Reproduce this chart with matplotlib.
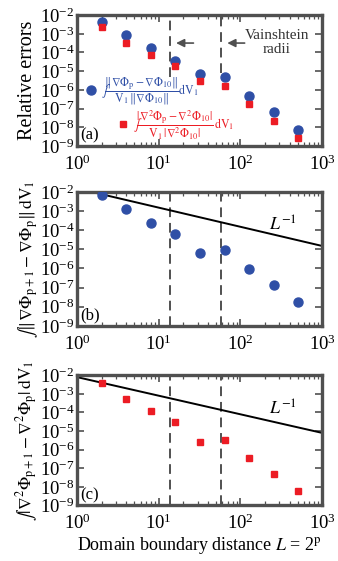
import matplotlib
matplotlib.use("Agg")
import matplotlib.pyplot as plt
import numpy as np

plt.rcParams['font.family'] = ['Liberation Serif', 'DejaVu Serif']
plt.rcParams['mathtext.fontset'] = 'stix'

# domain boundary distance L = 2^p, p = 1..9
L = [2, 4, 8, 16, 32, 64, 128, 256, 512]

# panel (a): relative errors against p = 10
err_grad = [4.5e-3, 8.7e-4, 1.7e-4, 3.7e-5, 7.3e-6, 4.8e-6, 4.5e-7, 6.3e-8, 7.0e-9]
err_lap = [2.4e-3, 3.4e-4, 7.4e-5, 1.8e-5, 3.0e-6, 1.7e-6, 1.7e-7, 2.2e-8, 2.6e-9]

# panel (b), (c): successive differences
diff_grad = [6.7e-3, 1.2e-3, 2.5e-4, 6.4e-5, 6.3e-6, 8.7e-6, 9.5e-7, 1.3e-7, 1.8e-8]
diff_lap = [4.1e-3, 5.5e-4, 1.2e-4, 3.0e-5, 2.5e-6, 3.5e-6, 3.5e-7, 4.7e-8, 6.3e-9]

# Vainshtein radii
r_v = [13.7, 58.0]
# L^-1 reference lines (amplitude)
amp_b = 1.5e-2
amp_c = 8.0e-3

blue = '#2f4fa6'
red = '#ec1c24'
grey = '#505050'

fig = plt.figure(figsize=(3.38, 5.61), dpi=100)
ax_a = fig.add_axes([0.228, 0.740, 0.725, 0.233])
ax_b = fig.add_axes([0.228, 0.419, 0.725, 0.239])
ax_c = fig.add_axes([0.228, 0.099, 0.725, 0.232])

for ax in (ax_a, ax_b, ax_c):
    ax.set_xscale('log')
    ax.set_yscale('log')
    ax.set_xlim(1, 1000)
    ax.set_ylim(1e-9, 1e-2)
    ax.set_yticks([10.0**k for k in range(-9, -1)])
    ax.set_xticks([1, 10, 100, 1000])
    ax.yaxis.set_minor_locator(matplotlib.ticker.NullLocator())
    for s in ax.spines.values():
        s.set_linewidth(2.4)
        s.set_color(grey)
    ax.tick_params(which='both', direction='in', top=True, right=True,
                   color=grey, labelsize=13.5, pad=2)
    ax.tick_params(axis='x', which='major', pad=6)
    ax.tick_params(which='major', length=5, width=1.2)
    ax.tick_params(which='minor', length=3, width=0.9)

# (a)
ax_a.vlines(r_v[0], 5e-6, 6e-3, colors=grey, linestyles=(0, (5, 3)), lw=1.4)
ax_a.vlines(r_v[1], 8e-6, 1e-2, colors=grey, linestyles=(0, (5, 3)), lw=1.4)
ax_a.plot(L, err_grad, 'o', color=blue, ms=6.5, zorder=3)
ax_a.plot(L, err_lap, 's', color=red, ms=5, zorder=3)
for xv in r_v:
    ax_a.annotate('', xy=(xv * 1.1, 3.2e-4), xytext=(xv * 2.1, 3.2e-4),
                  arrowprops=dict(arrowstyle='-|>', color=grey, lw=1.2,
                                  mutation_scale=12))
ax_a.text(280, 3.3e-4, 'Vainshtein\nradii', ha='center', va='center',
          fontsize=11, color='#333333', linespacing=1.1)
ax_a.text(1.08, 1.3e-9, '(a)', fontsize=12, ha='left', va='bottom')

lab_grad = (r'$\int\!\dfrac{\Vert\nabla\Phi_{\rm p}-\nabla\Phi_{10}\Vert}'
            r'{{\rm V}_1\,\Vert\nabla\Phi_{10}\Vert}{\rm dV}_1$')
lab_lap = (r'$\int\!\dfrac{|\nabla^2\Phi_{\rm p}-\nabla^2\Phi_{10}|}'
           r'{{\rm V}_1\,|\nabla^2\Phi_{10}|}\,{\rm dV}_1$')
h1, = ax_a.plot([], [], 'o', color=blue, ms=6.5)
h2, = ax_a.plot([], [], 's', color=red, ms=5)
leg1 = ax_a.legend([h1], [lab_grad], loc='center left',
                   bbox_to_anchor=(0.0, 0.42), frameon=False, fontsize=8.5,
                   labelcolor=blue, handletextpad=0.2, handlelength=1.2,
                   borderpad=0.1)
ax_a.add_artist(leg1)
ax_a.legend([h2], [lab_lap], loc='center left',
            bbox_to_anchor=(0.13, 0.16), frameon=False, fontsize=8.5,
            labelcolor=red, handletextpad=0.2, handlelength=1.2, borderpad=0.1)
ax_a.set_ylabel('Relative errors', fontsize=14.5, labelpad=2)

# (b)
xs = np.array([1.0, 1000.0])
for xv in r_v:
    ax_b.axvline(xv, color=grey, ls=(0, (5, 3)), lw=1.4)
ax_b.plot(xs, amp_b / xs, color='black', lw=1.4)
ax_b.plot(L, diff_grad, 'o', color=blue, ms=6.5, zorder=3)
ax_b.text(222, 1.9e-4, r'$L^{-1}$', fontsize=13, va='center')
ax_b.text(1.08, 1.3e-9, '(b)', fontsize=12, ha='left', va='bottom')
ax_b.set_ylabel(r'$\int\Vert\nabla\Phi_{\rm p+1}-\nabla\Phi_{\rm p}\Vert\,{\rm dV}_1$',
                fontsize=12.5, labelpad=0)

# (c)
for xv in r_v:
    ax_c.axvline(xv, color=grey, ls=(0, (5, 3)), lw=1.4)
ax_c.plot(xs, amp_c / xs, color='black', lw=1.4)
ax_c.plot(L, diff_lap, 's', color=red, ms=5, zorder=3)
ax_c.text(222, 1.5e-4, r'$L^{-1}$', fontsize=13, va='center')
ax_c.text(1.08, 1.3e-9, '(c)', fontsize=12, ha='left', va='bottom')
ax_c.set_ylabel(r'$\int|\nabla^2\Phi_{\rm p+1}-\nabla^2\Phi_{\rm p}|\,{\rm dV}_1$',
                fontsize=12.5, labelpad=0)
ax_c.set_xlabel(r'Domain boundary distance $L$ = 2$^{\rm p}$', fontsize=13,
                labelpad=1)

fig.savefig('out.png', dpi=100)
